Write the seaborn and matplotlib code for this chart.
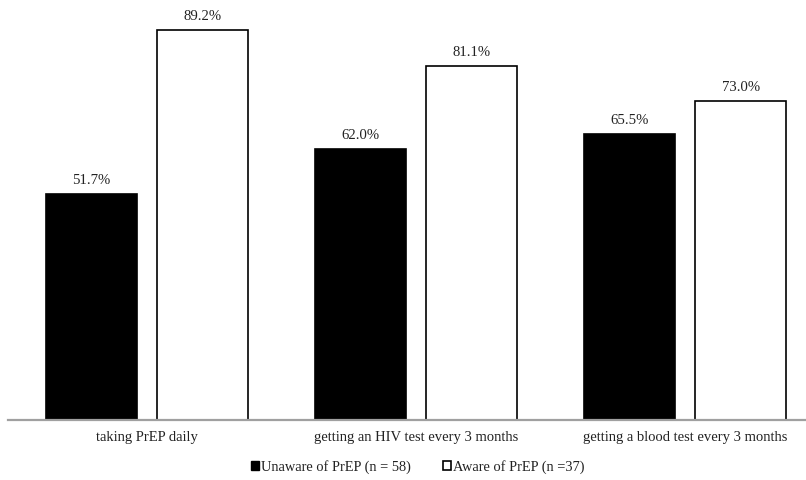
import matplotlib
matplotlib.use("Agg")
import matplotlib.pyplot as plt
import seaborn as sns
import pandas as pd
from matplotlib.patches import Patch

categories = ["taking PrEP daily", "getting an HIV test every 3 months",
              "getting a blood test every 3 months"]
unaware = [51.7, 62.0, 65.5]
aware = [89.2, 81.1, 73.0]
series_names = ["Unaware of PrEP (n = 58)", "Aware of PrEP (n =37)"]

df = pd.DataFrame({
    "category": categories * 2,
    "value": unaware + aware,
    "group": [series_names[0]] * 3 + [series_names[1]] * 3,
})

sns.set_theme(style="white")
plt.rcParams["font.family"] = ["Liberation Serif", "DejaVu Serif"]

fig = plt.figure(figsize=(8.06, 4.8), dpi=100)
ax = fig.add_axes([8 / 806, 60 / 480, 798 / 806, 415 / 480])

sns.barplot(data=df, x="category", y="value", hue="group",
            palette={series_names[0]: "black", series_names[1]: "white"},
            edgecolor="black", linewidth=1.2, width=0.829, gap=0.185,
            legend=False, ax=ax)

for c in ax.containers:
    ax.bar_label(c, fmt="%.1f%%", padding=5, fontsize=10.6, color="#222222")

ax.set_ylim(0, 95)
ax.set_xlim(-0.517, 2.45)
for s in ["top", "right", "left"]:
    ax.spines[s].set_visible(False)
ax.spines["bottom"].set_color("#a0a0a0")
ax.spines["bottom"].set_linewidth(1.6)
ax.set_yticks([])
ax.set_xlabel("")
ax.set_ylabel("")
ax.tick_params(axis="x", length=0, pad=8, labelsize=10.5, labelcolor="#222222")

handles = [Patch(facecolor="black", edgecolor="black", linewidth=1),
           Patch(facecolor="white", edgecolor="black", linewidth=1.2)]
fig.legend(handles, series_names, loc="center", bbox_to_anchor=(418 / 806, 1 - 467 / 480),
           ncol=2, frameon=False, fontsize=10.4, handlelength=0.55, handleheight=0.55,
           handletextpad=0.15, columnspacing=2.2, labelcolor="#222222")

fig.savefig("out.png", dpi=100, facecolor="white")
